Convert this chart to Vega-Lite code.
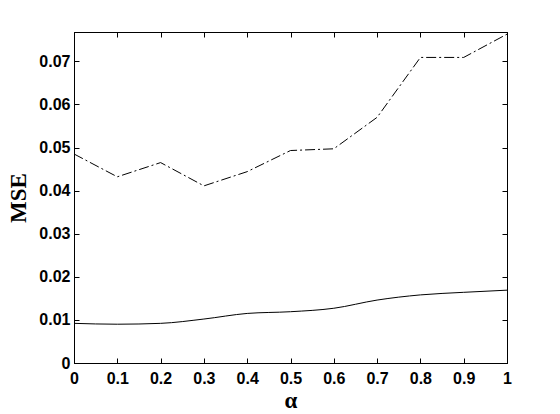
{
  "$schema": "https://vega.github.io/schema/vega-lite/v6.json",
  "autosize": {"type": "none"},
  "padding": {"left": 74, "top": 32, "right": 53, "bottom": 51},
  "width": 433,
  "height": 331,
  "background": "white",
  "config": {
    "view": {"stroke": "black", "strokeWidth": 1},
    "axis": {
      "domainColor": "black",
      "tickColor": "black",
      "tickSize": -5,
      "grid": false,
      "labelFont": "Liberation Sans",
      "labelFontWeight": "bold",
      "labelFontSize": 16,
      "labelColor": "black",
      "titleFont": "Liberation Serif",
      "titleFontWeight": "bold",
      "titleFontSize": 23,
      "titleColor": "black"
    }
  },
  "data": {
    "values": [
      {"alpha": 0.0, "mse": 0.0485, "method": "A"},
      {"alpha": 0.1, "mse": 0.0432, "method": "A"},
      {"alpha": 0.2, "mse": 0.0465, "method": "A"},
      {"alpha": 0.3, "mse": 0.0411, "method": "A"},
      {"alpha": 0.4, "mse": 0.0444, "method": "A"},
      {"alpha": 0.5, "mse": 0.0493, "method": "A"},
      {"alpha": 0.6, "mse": 0.0497, "method": "A"},
      {"alpha": 0.7, "mse": 0.0570, "method": "A"},
      {"alpha": 0.8, "mse": 0.0709, "method": "A"},
      {"alpha": 0.9, "mse": 0.0709, "method": "A"},
      {"alpha": 1.0, "mse": 0.0763, "method": "A"},
      {"alpha": 0.0, "mse": 0.0092, "method": "B"},
      {"alpha": 0.1, "mse": 0.0090, "method": "B"},
      {"alpha": 0.2, "mse": 0.0092, "method": "B"},
      {"alpha": 0.3, "mse": 0.0102, "method": "B"},
      {"alpha": 0.4, "mse": 0.0115, "method": "B"},
      {"alpha": 0.5, "mse": 0.0119, "method": "B"},
      {"alpha": 0.6, "mse": 0.0127, "method": "B"},
      {"alpha": 0.7, "mse": 0.0146, "method": "B"},
      {"alpha": 0.8, "mse": 0.0158, "method": "B"},
      {"alpha": 0.9, "mse": 0.0164, "method": "B"},
      {"alpha": 1.0, "mse": 0.0169, "method": "B"}
    ]
  },
  "resolve": {"axis": {"x": "independent", "y": "independent"}},
  "layer": [
    {
      "transform": [{"filter": "datum.method === 'A'"}],
      "mark": {"type": "line", "color": "black", "strokeWidth": 1, "strokeDash": [10, 3, 2, 3]},
      "encoding": {
        "x": {
          "field": "alpha", "type": "quantitative",
          "scale": {"domain": [0, 1], "nice": false},
          "axis": {"title": "α", "values": [0,0.1,0.2,0.3,0.4,0.5,0.6,0.7,0.8,0.9,1], "format": "~g", "labelPadding": 12, "titlePadding": 3, "labelFlush": false}
        },
        "y": {
          "field": "mse", "type": "quantitative",
          "scale": {"domain": [0, 0.0768], "nice": false, "zero": true},
          "axis": {"title": "MSE", "values": [0,0.01,0.02,0.03,0.04,0.05,0.06,0.07], "format": "~g", "labelPadding": 9, "titlePadding": 8, "labelFlush": false}
        }
      }
    },
    {
      "transform": [{"filter": "datum.method === 'B'"}],
      "mark": {"type": "line", "color": "black", "strokeWidth": 1, "interpolate": "monotone"},
      "encoding": {
        "x": {
          "field": "alpha", "type": "quantitative",
          "axis": {"orient": "top", "title": null, "labels": false, "values": [0,0.1,0.2,0.3,0.4,0.5,0.6,0.7,0.8,0.9,1]}
        },
        "y": {
          "field": "mse", "type": "quantitative",
          "axis": {"orient": "right", "title": null, "labels": false, "values": [0,0.01,0.02,0.03,0.04,0.05,0.06,0.07]}
        }
      }
    }
  ]
}
